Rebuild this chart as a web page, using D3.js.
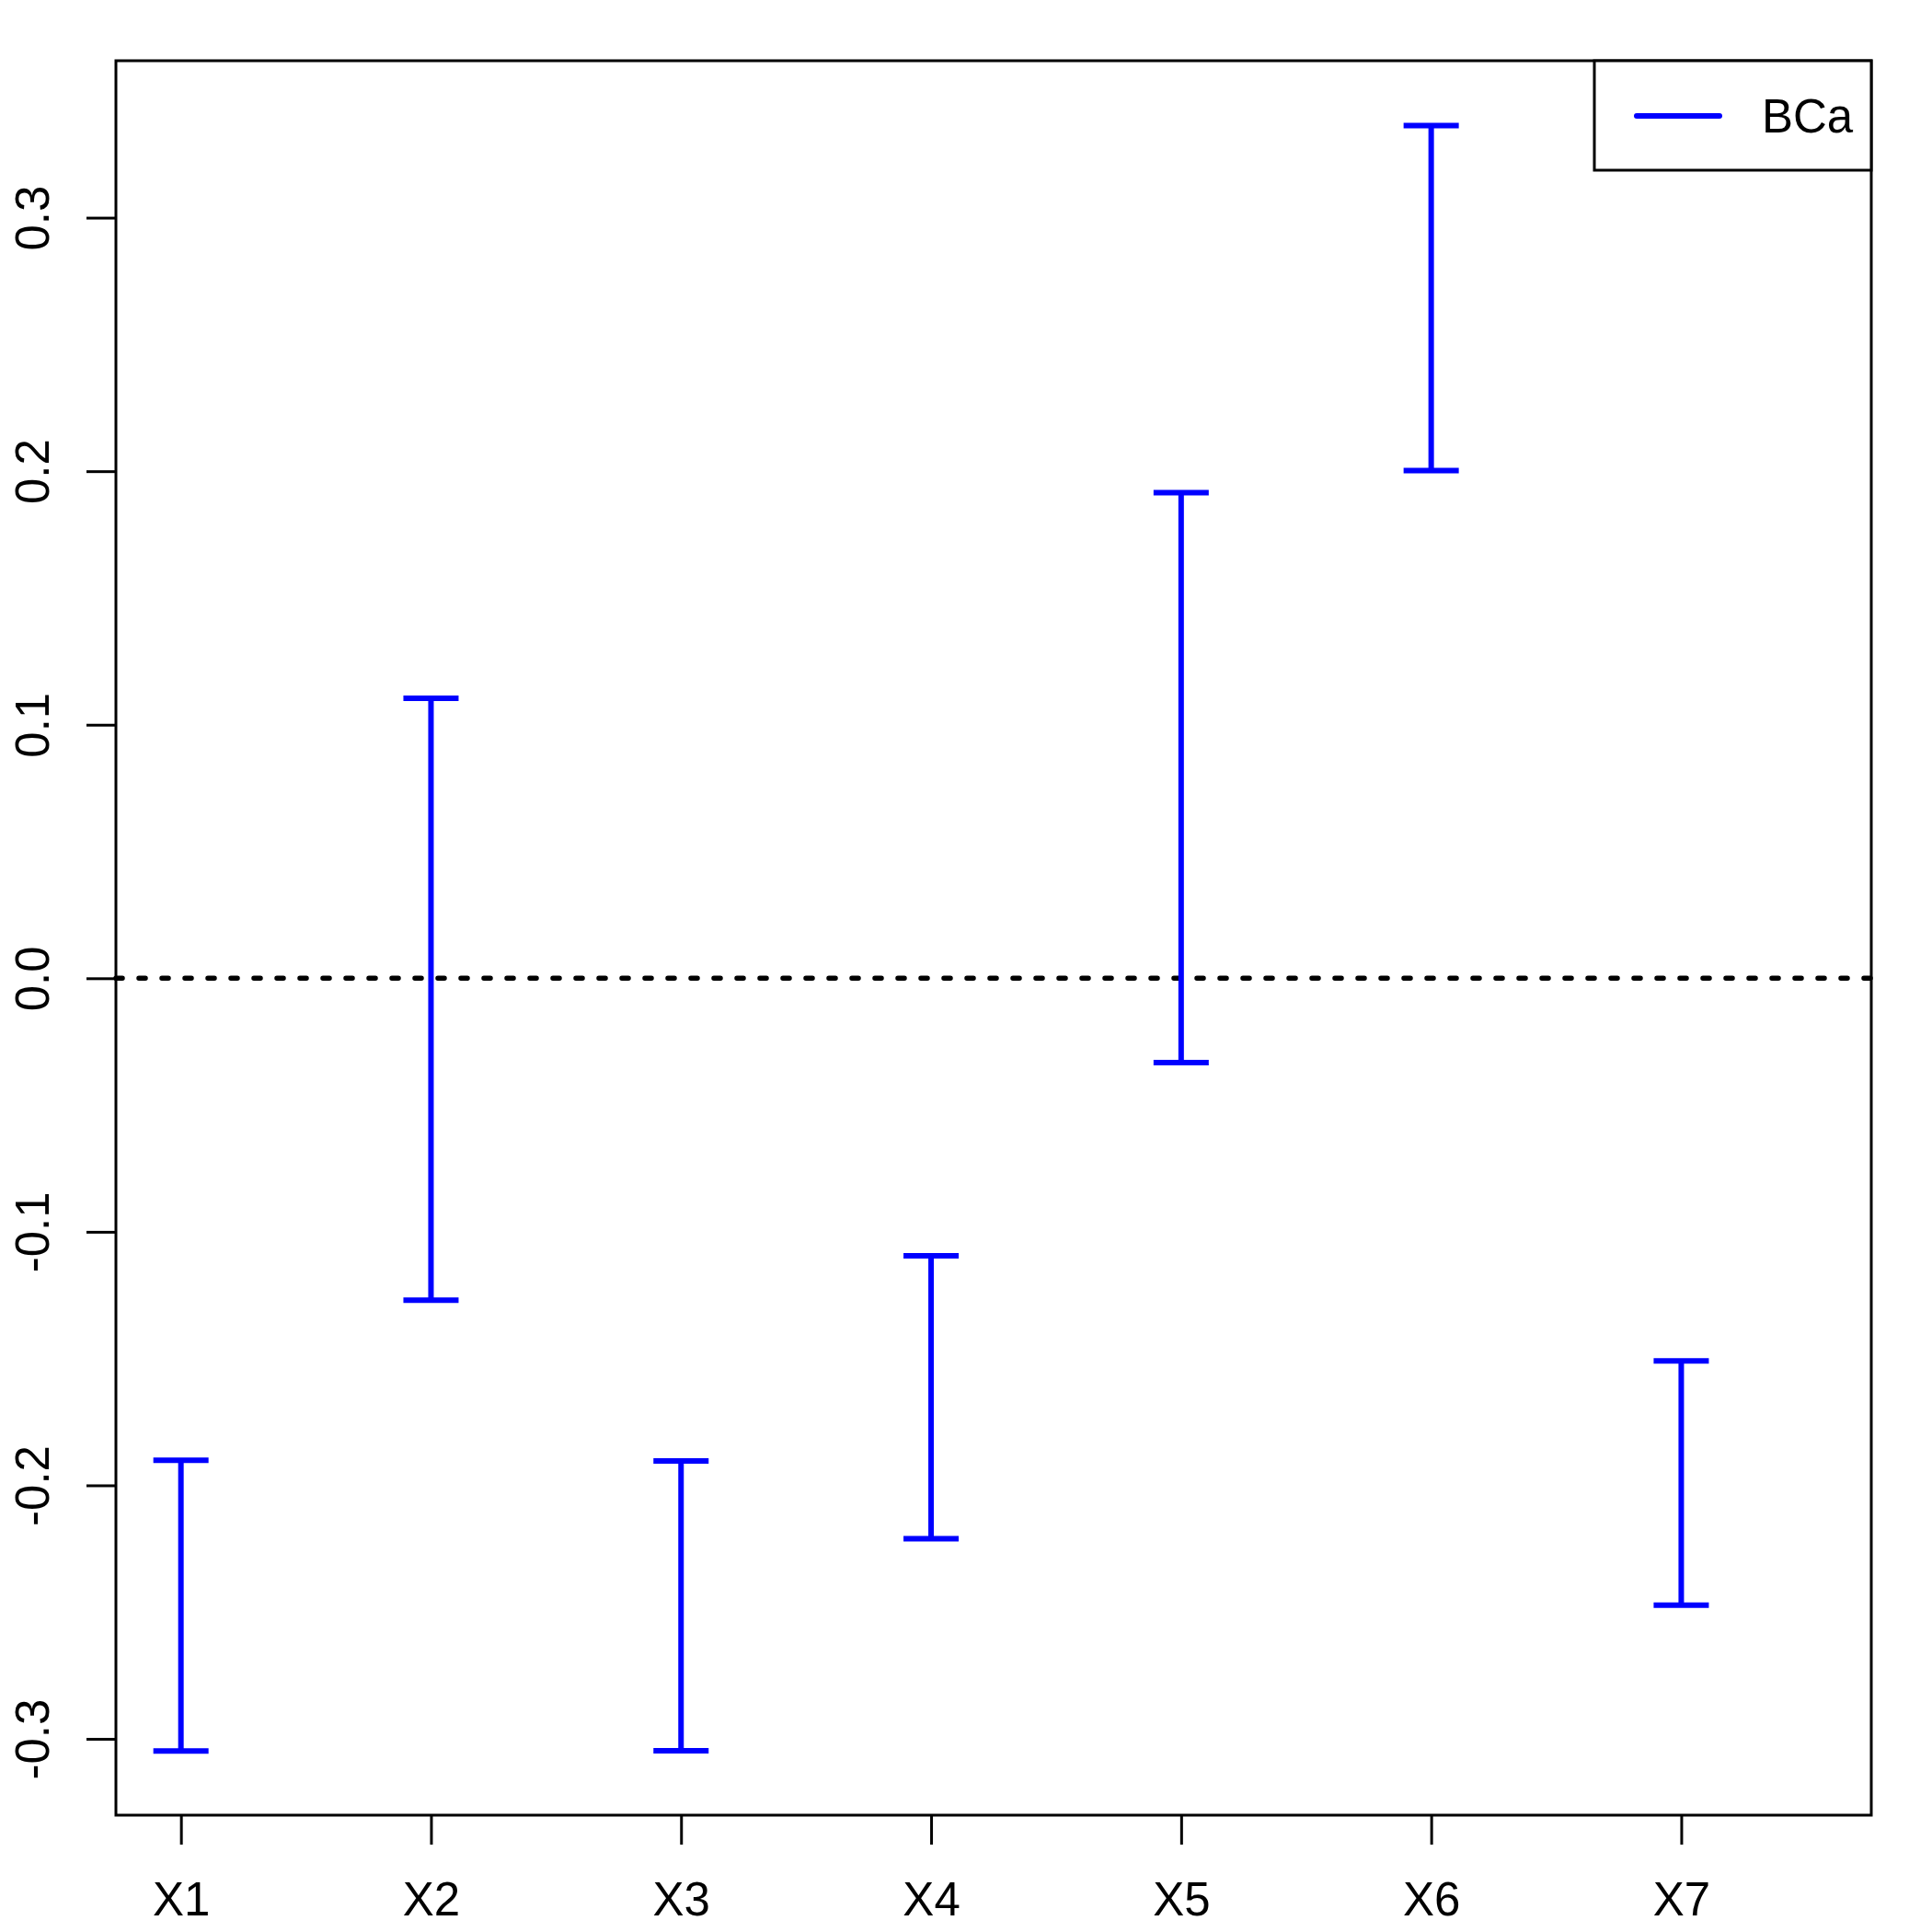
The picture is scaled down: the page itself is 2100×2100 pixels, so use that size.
<!DOCTYPE html>
<html>
<head>
<meta charset="utf-8">
<script src="https://cdn.jsdelivr.net/npm/d3@7"></script>
<style>
  html, body { margin: 0; padding: 0; background: #ffffff; }
  svg { display: block; }
  text { font-family: "Liberation Sans", Arial, Helvetica, sans-serif; fill: #000; }
</style>
</head>
<body>
<svg id="chart" width="2100" height="2100"></svg>
<script>
// ---- data ----
const categories = ["X1", "X2", "X3", "X4", "X5", "X6", "X7"];
const lower = [-0.3048, -0.1270, -0.3047, -0.2211, -0.0333, 0.2002, -0.2473];
const upper = [-0.1901, 0.1104, -0.1904, -0.1095, 0.1915, 0.3363, -0.1509];
const yTickValues = [-0.3, -0.2, -0.1, 0.0, 0.1, 0.2, 0.3];
const yTickLabels = ["-0.3", "-0.2", "-0.1", "0.0", "0.1", "0.2", "0.3"];
const legendLabels = ["BCa"];
const xDomain = [0.74, 7.76];
const yDomain = [-0.3301, 0.3619];

// ---- layout ----
const W = 2100, H = 2100;
const plot = { left: 126, right: 2034, top: 66, bottom: 1973 };
const blue = "#0000ff";
const fontSize = 51;

const svg = d3.select("#chart");
svg.append("rect").attr("width", W).attr("height", H).attr("fill", "#fff");

const x = d3.scaleLinear().domain(xDomain).range([plot.left, plot.right]);
const y = d3.scaleLinear().domain(yDomain).range([plot.bottom, plot.top]);

const data = categories.map((c, i) => ({ c, i: i + 1, lo: lower[i], hi: upper[i] }));

// zero reference line (dotted)
svg.append("line")
  .attr("x1", plot.left).attr("x2", plot.right)
  .attr("y1", y(0)).attr("y2", y(0))
  .attr("stroke", "#000").attr("stroke-width", 5.5)
  .attr("stroke-linecap", "round")
  .attr("stroke-dasharray", "7,18");

// error bars
const capHalf = 30;
const g = svg.append("g").attr("stroke", blue).attr("stroke-width", 6).attr("fill", "none");
g.selectAll("line.v").data(data).join("line").attr("class", "v")
  .attr("x1", d => x(d.i)).attr("x2", d => x(d.i))
  .attr("y1", d => y(d.lo)).attr("y2", d => y(d.hi));
g.selectAll("line.lo").data(data).join("line").attr("class", "lo")
  .attr("x1", d => x(d.i) - capHalf).attr("x2", d => x(d.i) + capHalf)
  .attr("y1", d => y(d.lo)).attr("y2", d => y(d.lo));
g.selectAll("line.hi").data(data).join("line").attr("class", "hi")
  .attr("x1", d => x(d.i) - capHalf).attr("x2", d => x(d.i) + capHalf)
  .attr("y1", d => y(d.hi)).attr("y2", d => y(d.hi));

// frame
svg.append("rect")
  .attr("x", plot.left).attr("y", plot.top)
  .attr("width", plot.right - plot.left).attr("height", plot.bottom - plot.top)
  .attr("fill", "none").attr("stroke", "#000").attr("stroke-width", 3);

// x axis
const xAxis = d3.axisBottom(x)
  .tickValues(categories.map((c, i) => i + 1))
  .tickFormat((d) => categories[d - 1])
  .tickSize(32).tickPadding(0);
const gx = svg.append("g").attr("transform", `translate(0,${plot.bottom})`).call(xAxis);
gx.select(".domain").remove();
gx.selectAll(".tick line").attr("stroke", "#000").attr("stroke-width", 3);
gx.selectAll(".tick text")
  .attr("font-size", fontSize).attr("dy", null).attr("y", 109)
  .style("font-family", '"Liberation Sans", Arial, sans-serif');

// y axis
const yAxis = d3.axisLeft(y).tickValues(yTickValues)
  .tickFormat((d, i) => yTickLabels[i]).tickSize(32);
const gy = svg.append("g").attr("transform", `translate(${plot.left},0)`).call(yAxis);
gy.select(".domain").remove();
gy.selectAll(".tick line").attr("stroke", "#000").attr("stroke-width", 3);
gy.selectAll(".tick text")
  .attr("x", null).attr("dy", null)
  .attr("text-anchor", "middle")
  .attr("font-size", fontSize)
  .attr("transform", `translate(${53 - plot.left},0) rotate(-90)`)
  .style("font-family", '"Liberation Sans", Arial, sans-serif');

// legend
const lg = svg.append("g");
lg.append("rect")
  .attr("x", 1733).attr("y", plot.top)
  .attr("width", plot.right - 1733).attr("height", 185 - plot.top)
  .attr("fill", "#fff").attr("stroke", "#000").attr("stroke-width", 3);
legendLabels.forEach((lab, k) => {
  lg.append("line")
    .attr("x1", 1779).attr("x2", 1869)
    .attr("y1", 126 + k * 60).attr("y2", 126 + k * 60)
    .attr("stroke", blue).attr("stroke-width", 6).attr("stroke-linecap", "round");
  lg.append("text")
    .attr("x", 1915).attr("y", 144 + k * 60)
    .attr("font-size", fontSize)
    .text(lab);
});
</script>
</body>
</html>
